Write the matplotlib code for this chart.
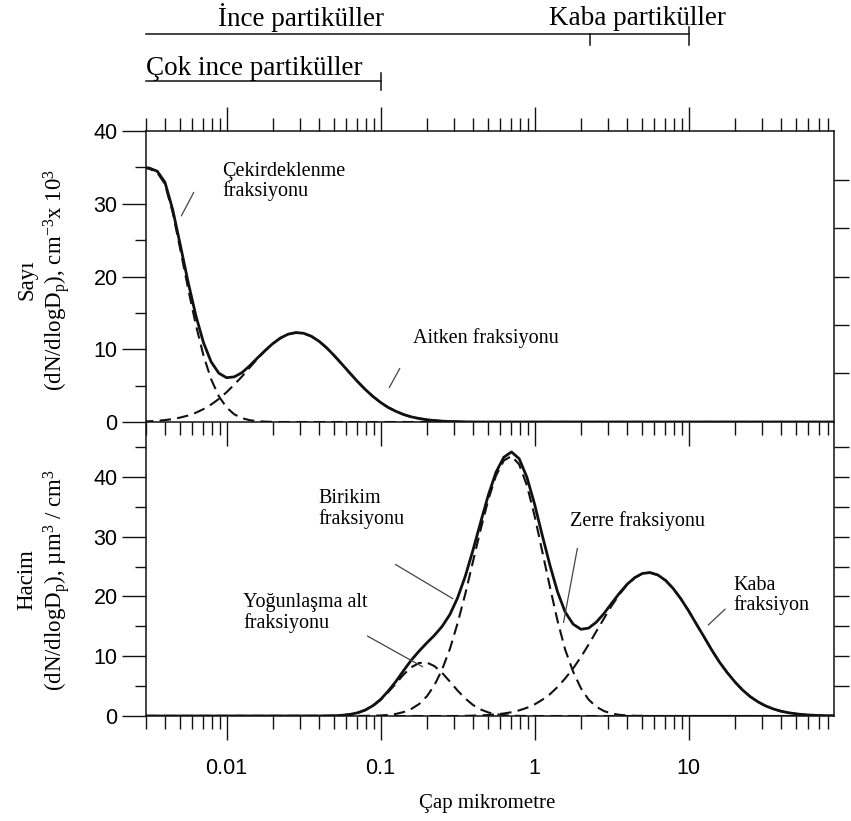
import matplotlib
matplotlib.use("Agg")
import matplotlib.pyplot as plt
from matplotlib.ticker import LogLocator, NullFormatter, MultipleLocator

plt.rcParams['font.family'] = ['Liberation Serif', 'DejaVu Serif']
plt.rcParams['mathtext.fontset'] = 'custom'
plt.rcParams['mathtext.rm'] = 'Liberation Serif'
plt.rcParams['mathtext.it'] = 'Liberation Serif:italic'

# ---- number distribution (top panel), diameters in micrometre ----
dp_num = [0.00282, 0.00316, 0.00355, 0.00398, 0.00447, 0.00501, 0.00562, 0.00631,
          0.00708, 0.00794, 0.00891, 0.01, 0.0112, 0.0126, 0.0141, 0.0158, 0.0178,
          0.02, 0.0224, 0.0251, 0.0282, 0.0316, 0.0355, 0.0398, 0.0447, 0.0501,
          0.0562, 0.0631, 0.0708, 0.0794, 0.0891, 0.1, 0.112, 0.126, 0.141, 0.158,
          0.178, 0.2, 0.224, 0.251, 0.282, 0.316, 0.355, 0.398, 0.447, 0.501, 0.562, 88]
nucleation = [35.0, 34.8, 34.3, 32.7, 28.8, 23.7, 18.4, 13.4, 9.15, 5.87, 3.54, 2.0,
              1.07, 0.53, 0.25, 0.11, 0.05, 0.02, 0, 0, 0, 0, 0, 0, 0, 0, 0, 0, 0, 0,
              0, 0, 0, 0, 0, 0, 0, 0, 0, 0, 0, 0, 0, 0, 0, 0, 0, 0]
aitken = [0.06, 0.10, 0.17, 0.26, 0.40, 0.61, 0.89, 1.27, 1.77, 2.40, 3.17, 4.09,
          5.13, 6.26, 7.46, 8.65, 9.78, 10.77, 11.55, 12.07, 12.29, 12.2, 11.79, 11.11,
          10.19, 9.11, 7.94, 6.74, 5.57, 4.49, 3.52, 2.69, 2.0, 1.46, 1.03, 0.71,
          0.48, 0.31, 0.2, 0.12, 0.07, 0.04, 0.02, 0, 0, 0, 0, 0]
num_total = [35.06, 34.9, 34.47, 32.96, 29.2, 24.31, 19.29, 14.67, 10.92, 8.27, 6.71,
             6.09, 6.2, 6.79, 7.71, 8.76, 9.83, 10.79, 11.55, 12.07, 12.29, 12.2, 11.79,
             11.11, 10.19, 9.11, 7.94, 6.74, 5.57, 4.49, 3.52, 2.69, 2.0, 1.46, 1.03,
             0.71, 0.48, 0.31, 0.2, 0.12, 0.07, 0.04, 0.02, 0, 0, 0, 0, 0]

# ---- volume distribution (bottom panel) ----
dp_vol = [0.003, 0.0398, 0.0447, 0.0501, 0.0562, 0.0631, 0.0708, 0.0794, 0.0891, 0.1,
          0.112, 0.126, 0.141, 0.158, 0.178, 0.2, 0.224, 0.251, 0.282, 0.316, 0.355,
          0.398, 0.447, 0.501, 0.562, 0.631, 0.708, 0.794, 0.891, 1.0, 1.12, 1.26,
          1.41, 1.58, 1.78, 2.0, 2.24, 2.51, 2.82, 3.16, 3.55, 3.98, 4.47, 5.01, 5.62,
          6.31, 7.08, 7.94, 8.91, 10, 11.2, 12.6, 14.1, 15.8, 17.8, 20, 22.4, 25.1,
          28.2, 31.6, 35.5, 39.8, 44.7, 50.1, 56.2, 63.1, 70.8, 79.4, 89.1]
condensation = [0, 0.01, 0.02, 0.05, 0.12, 0.26, 0.52, 0.97, 1.68, 2.68, 3.98, 5.46,
                6.93, 8.15, 8.87, 8.94, 8.34, 7.21, 5.76, 4.26, 2.92, 1.85, 1.09, 0.59,
                0.30, 0.14, 0.06, 0.02, 0, 0, 0, 0, 0, 0, 0, 0, 0, 0, 0, 0, 0, 0, 0, 0,
                0, 0, 0, 0, 0, 0, 0, 0, 0, 0, 0, 0, 0, 0, 0, 0, 0, 0, 0, 0, 0, 0, 0, 0, 0]
accumulation = [0, 0, 0, 0, 0, 0, 0.01, 0.02, 0.04, 0.09, 0.18, 0.35, 0.66, 1.17, 2.0,
                3.31, 5.18, 7.79, 11.23, 15.49, 20.45, 25.84, 31.28, 36.23, 40.24, 42.74,
                43.5, 42.1, 38.6, 33.5, 27.6, 21.5, 15.9, 11.1, 7.39, 4.64, 2.76, 1.56,
                0.83, 0.42, 0.2, 0.09, 0.04, 0.02, 0, 0, 0, 0, 0, 0, 0, 0, 0, 0, 0, 0,
                0, 0, 0, 0, 0, 0, 0, 0, 0, 0, 0, 0, 0]
coarse = [0, 0, 0, 0, 0, 0, 0, 0, 0, 0, 0, 0, 0, 0, 0, 0, 0, 0, 0, 0, 0.03, 0.06, 0.1,
          0.17, 0.27, 0.42, 0.63, 0.94, 1.37, 1.94, 2.70, 3.66, 4.86, 6.29, 7.97, 9.87,
          11.94, 14.11, 16.31, 18.42, 20.33, 21.93, 23.12, 23.83, 24.0, 23.6, 22.7,
          21.34, 19.6, 17.6, 15.44, 13.24, 11.09, 9.08, 7.27, 5.69, 4.35, 3.25, 2.37,
          1.69, 1.18, 0.80, 0.54, 0.35, 0.22, 0.14, 0.08, 0.05, 0.03]
vol_total = [0, 0.01, 0.02, 0.05, 0.12, 0.26, 0.53, 0.99, 1.72, 2.77, 4.16, 5.81, 7.59,
             9.32, 10.87, 12.25, 13.52, 15.0, 16.99, 19.75, 23.4, 27.75, 32.47, 36.99,
             40.81, 43.3, 44.19, 43.06, 39.97, 35.44, 30.3, 25.16, 20.76, 17.39, 15.36,
             14.51, 14.7, 15.67, 17.14, 18.84, 20.53, 22.02, 23.16, 23.85, 24.0, 23.6,
             22.7, 21.34, 19.6, 17.6, 15.44, 13.24, 11.09, 9.08, 7.27, 5.69, 4.35, 3.25,
             2.37, 1.69, 1.18, 0.80, 0.54, 0.35, 0.22, 0.14, 0.08, 0.05, 0.03]

x_major = [0.01, 0.1, 1, 10]
x_major_labels = ['0.01', '0.1', '1', '10']
right_ticks_top = [6.67, 13.33, 20.0, 26.67, 33.33]
right_ticks_bottom = [5, 10, 15, 20, 25, 30, 35, 40, 45]

XMIN, XMAX = 0.003, 88
DASH = (0, (5.5, 3))
INK = '#111111'

fig = plt.figure(figsize=(8.51, 8.21), dpi=100)
ax1 = fig.add_axes([0.1716, 0.4860, 0.8085, 0.3544])
ax2 = fig.add_axes([0.1716, 0.1279, 0.8085, 0.3581])
ax0 = fig.add_axes([0.1716, 0.8404, 0.8085, 0.1596])
ax2.patch.set_alpha(0)

for ax in (ax1, ax2):
    ax.set_xscale('log')
    ax.set_xlim(XMIN, XMAX)
    ax.xaxis.set_major_locator(LogLocator(base=10))
    ax.xaxis.set_minor_locator(LogLocator(base=10, subs=[2, 3, 4, 5, 6, 7, 8, 9]))
    ax.xaxis.set_minor_formatter(NullFormatter())
    ax.yaxis.set_major_locator(MultipleLocator(10))
    ax.yaxis.set_minor_locator(MultipleLocator(5))
    ax.tick_params(which='major', direction='out', length=17.5, width=1.0,
                   color=INK, labelsize=15.5, labelfontfamily='Liberation Sans')
    ax.tick_params(axis='x', which='minor', direction='out', length=9.5, width=1.0, color=INK)
    ax.tick_params(axis='y', which='minor', direction='out', length=8, width=1.0, color=INK)
    ax.tick_params(axis='y', which='major', pad=3)
    for s in ax.spines.values():
        s.set_linewidth(1.1)
        s.set_color(INK)

# top panel: number
ax1.plot(dp_num, nucleation, color=INK, lw=1.5, ls=DASH)
ax1.plot(dp_num, aitken, color=INK, lw=1.5, ls=DASH)
ax1.plot(dp_num, num_total, color=INK, lw=2.0)
ax1.set_ylim(0, 40)
ax1.xaxis.set_ticks_position('both')
ax1.tick_params(axis='x', labelbottom=False, labeltop=False)

# bottom panel: volume
ax2.plot(dp_vol, condensation, color=INK, lw=1.5, ls=DASH)
ax2.plot(dp_vol, accumulation, color=INK, lw=1.5, ls=DASH)
ax2.plot(dp_vol, coarse, color=INK, lw=1.5, ls=DASH)
ax2.plot(dp_vol, vol_total, color=INK, lw=2.0)
ax2.set_ylim(0, 49.2)
ax2.set_yticks([0, 10, 20, 30, 40])
ax2.set_xticks(x_major, x_major_labels)
ax2.xaxis.set_ticks_position('bottom')
ax2.tick_params(axis='x', which='major', pad=13)
ax2.spines['top'].set_visible(False)

# right-hand tick marks
for ax, ticks in ((ax1, right_ticks_top), (ax2, right_ticks_bottom)):
    axr = ax.twinx()
    axr.set_ylim(ax.get_ylim())
    axr.set_yticks(ticks)
    axr.tick_params(axis='y', direction='out', length=10.5, width=1.0,
                    color=INK, labelright=False)
    for s in axr.spines.values():
        s.set_visible(False)

# y labels and x label
fig.text(0.052, 0.659, 'Sayı\n(dN/dlogD$_\\mathrm{p}$), cm$^{-3}$x 10$^{3}$',
         rotation=90, ha='center', va='center', multialignment='center',
         fontsize=16.5, linespacing=1.2)
fig.text(0.052, 0.2935, 'Hacim\n(dN/dlogD$_\\mathrm{p}$), µm$^{3}$ / cm$^{3}$',
         rotation=90, ha='center', va='center', multialignment='center',
         fontsize=16.5, linespacing=1.2)
fig.text(0.573, 0.021, 'Çap mikrometre', ha='center', va='center', fontsize=15)

# mode labels
ax1.text(0.00935, 35.8, 'Çekirdeklenme\nfraksiyonu', fontsize=14.5, va='top', linespacing=1.05)
ax1.annotate('', xy=(0.00499, 28.0), xytext=(0.00624, 31.9),
             arrowprops=dict(arrowstyle='-', lw=0.9, color='#444444'))
ax1.text(0.163, 11.5, 'Aitken fraksiyonu', fontsize=14.5, va='center')
ax1.annotate('', xy=(0.1117, 4.4), xytext=(0.136, 7.7),
             arrowprops=dict(arrowstyle='-', lw=0.9, color='#444444'))

ax2.text(0.0393, 38.0, 'Birikim\nfraksiyonu', fontsize=14.5, va='top', linespacing=1.05)
ax2.annotate('', xy=(0.305, 19.4), xytext=(0.1205, 25.6),
             arrowprops=dict(arrowstyle='-', lw=0.9, color='#444444'))
ax2.text(0.0128, 20.5, 'Yoğunlaşma alt\nfraksiyonu', fontsize=14.5, va='top', linespacing=1.05)
ax2.annotate('', xy=(0.1945, 8.0), xytext=(0.0793, 13.6),
             arrowprops=dict(arrowstyle='-', lw=0.9, color='#444444'))
ax2.text(1.70, 32.6, 'Zerre fraksiyonu', fontsize=14.5, va='center')
ax2.annotate('', xy=(1.53, 15.2), xytext=(1.91, 28.5),
             arrowprops=dict(arrowstyle='-', lw=0.9, color='#444444'))
ax2.text(19.5, 23.5, 'Kaba\nfraksiyon', fontsize=14.5, va='top', linespacing=1.05)
ax2.annotate('', xy=(13.0, 14.9), xytext=(17.8, 18.2),
             arrowprops=dict(arrowstyle='-', lw=0.9, color='#444444'))

# size-range brackets above the plot (y in pixels from the top of the figure)
ax0.set_xscale('log')
ax0.set_xlim(XMIN, XMAX)
ax0.set_ylim(131, 0)
ax0.axis('off')
ax0.plot([XMIN, 10], [34, 34], color=INK, lw=1.1, clip_on=False)
ax0.plot([2.3, 2.3], [34, 45], color=INK, lw=1.1, clip_on=False)
ax0.plot([10, 10], [27, 45], color=INK, lw=1.1, clip_on=False)
ax0.plot([XMIN, 0.1], [81, 81], color=INK, lw=1.1, clip_on=False)
ax0.plot([0.1, 0.1], [73, 90], color=INK, lw=1.1, clip_on=False)
ax0.text(0.00879, 18, 'İnce partiküller', fontsize=19.5, va='center')
ax0.text(1.24, 18, 'Kaba partiküller', fontsize=19.5, va='center')
ax0.text(XMIN, 68, 'Çok ince partiküller', fontsize=19.5, va='center')

fig.savefig('out.png', dpi=100)
